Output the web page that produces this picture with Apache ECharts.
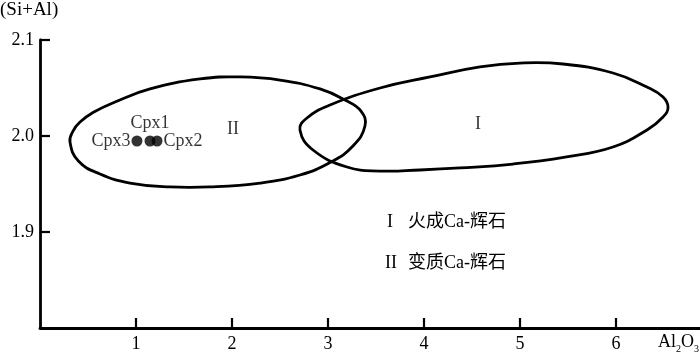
<!DOCTYPE html>
<html><head><meta charset="utf-8">
<script src="https://cdn.jsdelivr.net/npm/echarts@6/dist/echarts.min.js"></script>
<style>html,body{margin:0;padding:0;background:#fff}#c{width:700px;height:353px}</style>
</head><body><div id="c"></div>
<script>
// ---- data ----
const xTicks = [1, 2, 3, 4, 5, 6];
const yTicks = [1.9, 2.0, 2.1];
// Field I (igneous Ca-pyroxene) outline: [Al2O3, Si+Al]
const igneousOutline = [
  [2.708, 2.0063], [2.781, 2.0188], [3.021, 2.0323], [3.542, 2.050], [4.063, 2.0615],
  [4.583, 2.0719], [5.000, 2.0760], [5.448, 2.0750], [5.969, 2.0656], [6.323, 2.0510],
  [6.490, 2.0406], [6.542, 2.0300], [6.490, 2.0198], [6.323, 2.0063], [5.969, 1.9885],
  [5.469, 1.9780], [4.927, 1.9708], [4.375, 1.9667], [3.958, 1.9646], [3.542, 1.9635],
  [3.198, 1.9677], [2.844, 1.9854]
];
// Field II (metamorphic Ca-pyroxene) outline
const metamorphicOutline = [
  [0.3125, 1.9937], [0.344, 2.0052], [0.417, 2.0145], [0.552, 2.0245], [0.781, 2.0354],
  [1.146, 2.0490], [1.667, 2.0594], [2.083, 2.0615], [2.500, 2.0583], [2.917, 2.0490],
  [3.177, 2.0375], [3.344, 2.0260], [3.385, 2.0104], [3.260, 1.9896], [3.031, 1.9729],
  [2.708, 1.9594], [2.292, 1.9510], [1.771, 1.9469], [1.354, 1.9469], [0.9375, 1.9510],
  [0.625, 1.9604], [0.400, 1.9739]
];
const sampleNames = ['Cpx3', 'Cpx1', 'Cpx2'];
const sampleAl2O3 = [1.01, 1.146, 1.219];
const sampleSiAl = [1.9948, 1.9948, 1.9948];
const regionNames = ['I', 'II'];
const regionX = [4.5625, 2.01];
const regionY = [2.0125, 2.007];
const legendNumerals = ['I', 'II'];
const legendTexts = ['火成Ca-辉石', '变质Ca-辉石'];

// ---- chart ----
const serif = 'Liberation Serif, "Noto Sans CJK SC", serif';
const sampleLabelPos = ['left', 'top', 'right'];

function outlineSeries(pts) {
  return {
    type: 'custom', coordinateSystem: 'cartesian2d', silent: true, clip: false,
    data: [pts[0]],
    renderItem: function (params, api) {
      return {
        type: 'polygon',
        shape: { points: pts.map(p => api.coord(p)), smooth: 0.45 },
        style: { fill: 'none', stroke: '#000', lineWidth: 2.8 }
      };
    }
  };
}

const chart = echarts.init(document.getElementById('c'), null, { renderer: 'canvas' });
chart.setOption({
  animation: false,
  backgroundColor: '#fff',
  grid: { left: 40, right: 0, top: 40, bottom: 25 },
  xAxis: {
    type: 'value', min: 0, max: 6.875, interval: 1,
    axisLine: { onZero: false, lineStyle: { color: '#000', width: 2.8 } },
    axisTick: { inside: true, length: 10, customValues: xTicks, lineStyle: { color: '#000', width: 2.2 } },
    axisLabel: { customValues: xTicks, color: '#000', fontSize: 18, fontFamily: serif, margin: 7 },
    splitLine: { show: false }
  },
  yAxis: {
    type: 'value', min: 1.8, max: 2.1, interval: 0.1,
    axisLine: { onZero: false, lineStyle: { color: '#000', width: 2.8 } },
    axisTick: { inside: true, length: 10, customValues: yTicks, lineStyle: { color: '#000', width: 2.2 } },
    axisLabel: { customValues: yTicks, color: '#000', fontSize: 18, fontFamily: serif, margin: 6,
      formatter: v => Number(v).toFixed(1) },
    splitLine: { show: false }
  },
  series: [
    outlineSeries(igneousOutline),
    outlineSeries(metamorphicOutline),
    {
      type: 'scatter', symbol: 'circle', symbolSize: 11, itemStyle: { color: '#000' },
      data: sampleNames.map((n, i) => ({
        name: n, value: [sampleAl2O3[i], sampleSiAl[i]],
        label: { show: true, position: sampleLabelPos[i], distance: sampleLabelPos[i] === 'top' ? 3 : 1,
          formatter: '{b}', color: '#000', fontSize: 18, fontFamily: serif }
      })),
      z: 5
    },
    {
      type: 'scatter', symbolSize: 0, silent: true,
      data: regionNames.map((n, i) => ({ name: n, value: [regionX[i], regionY[i]] })),
      label: { show: true, position: 'inside', formatter: '{b}', color: '#000', fontSize: 18, fontFamily: serif }
    }
  ],
  graphic: [
    { type: 'text', left: 0, top: 1, style: { text: '(Si+Al)', fill: '#000', font: '19px ' + serif } },
    { type: 'text', right: 1, top: 333, style: {
      text: '{n|Al}{s|2}{n|O}{s|3}', fill: '#000',
      rich: { n: { fontSize: 18, fontFamily: serif, fill: '#000', verticalAlign: 'bottom' },
              s: { fontSize: 10, fontFamily: serif, fill: '#000', verticalAlign: 'bottom', padding: [0, 0, -3, 0] } } } },
    { type: 'text', x: 390, y: 222, style: { text: legendNumerals[0], fill: '#000', font: '18px ' + serif, align: 'center', verticalAlign: 'middle' } },
    { type: 'text', x: 408, y: 222, style: { text: legendTexts[0], fill: '#000', font: '18px ' + serif, align: 'left', verticalAlign: 'middle' } },
    { type: 'text', x: 391, y: 263, style: { text: legendNumerals[1], fill: '#000', font: '18px ' + serif, align: 'center', verticalAlign: 'middle' } },
    { type: 'text', x: 408, y: 263, style: { text: legendTexts[1], fill: '#000', font: '18px ' + serif, align: 'left', verticalAlign: 'middle' } }
  ]
});
</script></body></html>
